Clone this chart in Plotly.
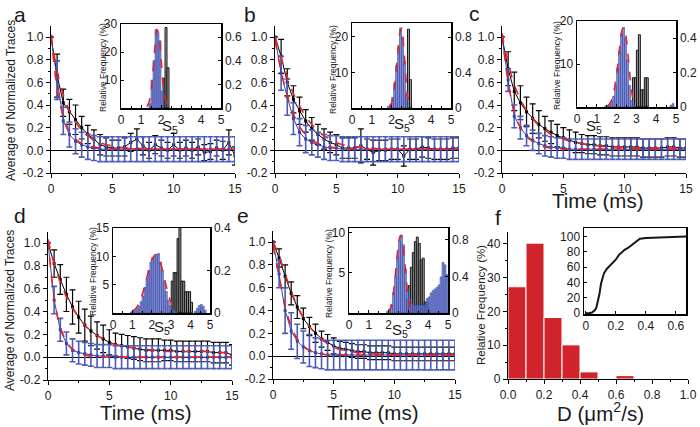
import plotly.graph_objects as go

W, H = 700, 427
def fx(p): return p / W
def fy(p): return 1 - p / H

FONT = "Liberation Sans, Arial, sans-serif"
BLUE = "#3846a6"
BLUE_ERR = "#4b5bbb"
RED = "#e2242b"
TXT = "#1a1a1a"

# ---------------- data ----------------
T = [0, 0.5, 1, 1.5, 2, 2.5, 3, 3.5, 4, 4.5, 5, 5.5, 6, 6.5, 7, 7.5, 8, 8.5, 9, 9.5,
     10, 10.5, 11, 11.5, 12, 12.5, 13, 13.5, 14, 14.5, 15]

a_black = [1.00, 0.66, 0.42, 0.34, 0.27, 0.20, 0.14, 0.10, 0.05, 0.03,
           0.02, 0.02, 0.03, 0.07, 0.10, 0.04, 0.00, 0.05, 0.02, 0.00,
           0.05, 0.00, 0.02, 0.00, 0.03, -0.02, -0.01, 0.02, 0.00, 0.07,
           -0.05]
a_black_err = [0.00, 0.19, 0.12, 0.11, 0.13, 0.10, 0.08, 0.08, 0.09, 0.08,
               0.07, 0.07, 0.08, 0.08, 0.09, 0.08, 0.07, 0.08, 0.07, 0.07,
               0.10, 0.07, 0.07, 0.07, 0.07, 0.07, 0.07, 0.07, 0.08, 0.11,
               0.08]
a_blue = [1.00, 0.62, 0.26, 0.14, 0.08, 0.05, 0.03, 0.02, 0.01, 0.01,
          0.01, 0.01, 0.01, 0.01, 0.01, 0.01, 0.01, 0.01, 0.01, 0.01,
          0.01, 0.01, 0.01, 0.01, 0.01, 0.01, 0.01, 0.01, 0.01, 0.01,
          0.01]
a_blue_err = [0.00, 0.17, 0.12, 0.11, 0.11, 0.11, 0.11, 0.11, 0.11, 0.11,
              0.11, 0.11, 0.11, 0.11, 0.11, 0.11, 0.11, 0.11, 0.11, 0.11,
              0.11, 0.11, 0.11, 0.11, 0.11, 0.11, 0.11, 0.11, 0.11, 0.11,
              0.11]
a_fit_black = [1.02, 0.70, 0.49, 0.35, 0.25, 0.18, 0.13, 0.09, 0.07, 0.05,
               0.04, 0.03, 0.02, 0.02, 0.02, 0.01, 0.01, 0.01, 0.01, 0.01,
               0.01, 0.01, 0.01, 0.01, 0.01, 0.01, 0.01, 0.01, 0.01, 0.01,
               0.01]
a_fit_blue = [1.02, 0.55, 0.30, 0.17, 0.10, 0.06, 0.04, 0.03, 0.02, 0.01,
              0.01, 0.01, 0.01, 0.01, 0.01, 0.01, 0.01, 0.01, 0.01, 0.01,
              0.01, 0.01, 0.01, 0.01, 0.01, 0.01, 0.01, 0.01, 0.01, 0.01,
              0.01]

b_black = [1.00, 0.83, 0.60, 0.45, 0.35, 0.26, 0.19, 0.14, 0.10, 0.07,
           0.05, 0.02, 0.02, 0.02, 0.04, 0.01, -0.02, 0.00, 0.00, 0.01,
           0.01, -0.05, 0.01, 0.01, 0.03, 0.02, 0.01, 0.01, 0.01, 0.02,
           0.02]
b_black_err = [0.00, 0.15, 0.12, 0.12, 0.12, 0.10, 0.10, 0.09, 0.09, 0.09,
               0.09, 0.09, 0.09, 0.09, 0.15, 0.09, 0.11, 0.09, 0.09, 0.09,
               0.09, 0.09, 0.09, 0.09, 0.09, 0.09, 0.09, 0.09, 0.09, 0.09,
               0.09]
b_blue = [1.00, 0.68, 0.47, 0.28, 0.16, 0.10, 0.07, 0.05, 0.03, 0.02,
          0.02, 0.01, 0.01, 0.01, 0.01, 0.01, 0.01, 0.01, 0.01, 0.01,
          0.01, 0.01, 0.01, 0.01, 0.01, 0.01, 0.01, 0.01, 0.01, 0.01,
          0.01]
b_blue_err = [0.00, 0.15, 0.16, 0.14, 0.12, 0.12, 0.11, 0.11, 0.11, 0.11,
              0.11, 0.11, 0.11, 0.11, 0.11, 0.11, 0.11, 0.11, 0.11, 0.11,
              0.11, 0.11, 0.11, 0.11, 0.11, 0.11, 0.11, 0.11, 0.11, 0.11,
              0.11]
b_fit_black = [1.00, 0.82, 0.65, 0.50, 0.39, 0.30, 0.23, 0.17, 0.13, 0.10,
               0.07, 0.05, 0.04, 0.03, 0.03, 0.02, 0.02, 0.01, 0.01, 0.01,
               0.01, 0.01, 0.01, 0.01, 0.01, 0.01, 0.01, 0.01, 0.01, 0.01,
               0.01]
b_fit_blue = [0.97, 0.70, 0.48, 0.32, 0.21, 0.14, 0.09, 0.06, 0.04, 0.03,
              0.02, 0.02, 0.01, 0.01, 0.01, 0.01, 0.01, 0.01, 0.01, 0.01,
              0.01, 0.01, 0.01, 0.01, 0.01, 0.01, 0.01, 0.01, 0.01, 0.01,
              0.01]

c_black = [1.00, 0.72, 0.52, 0.42, 0.34, 0.28, 0.23, 0.19, 0.16, 0.13,
           0.11, 0.09, 0.07, 0.06, 0.05, 0.05, 0.04, 0.04, 0.03, 0.03,
           0.03, 0.03, 0.03, 0.02, 0.02, 0.02, 0.02, 0.03, 0.03, 0.02,
           0.02]
c_black_err = [0.00, 0.15, 0.17, 0.15, 0.13, 0.13, 0.12, 0.11, 0.10, 0.10,
               0.09, 0.09, 0.09, 0.08, 0.08, 0.08, 0.08, 0.08, 0.08, 0.08,
               0.08, 0.08, 0.08, 0.08, 0.08, 0.08, 0.08, 0.08, 0.08, 0.08,
               0.08]
c_blue = [1.00, 0.62, 0.30, 0.20, 0.13, 0.09, 0.06, 0.04, 0.03, 0.02,
          0.02, 0.01, 0.01, 0.01, 0.01, 0.01, 0.01, 0.01, 0.01, 0.01,
          0.01, 0.01, 0.01, 0.01, 0.01, 0.01, 0.01, 0.01, 0.01, 0.01,
          0.01]
c_blue_err = [0.00, 0.10, 0.10, 0.10, 0.09, 0.09, 0.09, 0.09, 0.09, 0.09,
              0.09, 0.09, 0.09, 0.09, 0.09, 0.09, 0.09, 0.09, 0.09, 0.09,
              0.09, 0.09, 0.09, 0.09, 0.09, 0.09, 0.09, 0.09, 0.09, 0.09,
              0.09]
c_fit_black = [1.03, 0.77, 0.58, 0.45, 0.35, 0.28, 0.22, 0.18, 0.14, 0.12,
               0.10, 0.08, 0.07, 0.06, 0.05, 0.04, 0.04, 0.03, 0.03, 0.03,
               0.03, 0.02, 0.02, 0.02, 0.02, 0.02, 0.02, 0.02, 0.02, 0.02,
               0.02]
c_fit_blue = [1.03, 0.60, 0.34, 0.20, 0.12, 0.08, 0.05, 0.03, 0.02, 0.02,
              0.01, 0.01, 0.01, 0.01, 0.01, 0.01, 0.01, 0.01, 0.01, 0.01,
              0.01, 0.01, 0.01, 0.01, 0.01, 0.01, 0.01, 0.01, 0.01, 0.01,
              0.01]

d_black = [1.00, 0.82, 0.68, 0.55, 0.44, 0.35, 0.28, 0.23, 0.19, 0.16,
           0.13, 0.11, 0.10, 0.09, 0.08, 0.07, 0.06, 0.06, 0.06, 0.06,
           0.06, 0.05, 0.05, 0.05, 0.05, 0.05, 0.05, 0.04, 0.04, 0.04,
           0.02]
d_black_err = [0.00, 0.12, 0.13, 0.15, 0.15, 0.14, 0.14, 0.13, 0.12, 0.12,
               0.11, 0.10, 0.10, 0.10, 0.10, 0.10, 0.10, 0.10, 0.10, 0.09,
               0.09, 0.09, 0.09, 0.09, 0.09, 0.09, 0.09, 0.09, 0.09, 0.09,
               0.09]
d_blue = [1.00, 0.50, 0.24, 0.12, 0.06, 0.04, 0.03, 0.02, 0.01, 0.01,
          0.01, 0.00, 0.00, 0.00, 0.00, 0.00, 0.00, 0.00, 0.00, 0.00,
          0.00, 0.00, 0.00, 0.00, 0.00, 0.00, 0.00, 0.00, 0.00, 0.00,
          0.00]
d_blue_err = [0.00, 0.12, 0.10, 0.10, 0.10, 0.10, 0.10, 0.10, 0.10, 0.10,
              0.10, 0.10, 0.10, 0.10, 0.10, 0.10, 0.10, 0.10, 0.10, 0.10,
              0.10, 0.10, 0.10, 0.10, 0.10, 0.10, 0.10, 0.10, 0.10, 0.10,
              0.10]
d_fit_black = [1.03, 0.82, 0.66, 0.53, 0.43, 0.35, 0.28, 0.23, 0.19, 0.16,
               0.13, 0.11, 0.10, 0.09, 0.08, 0.07, 0.07, 0.06, 0.06, 0.05,
               0.05, 0.05, 0.05, 0.05, 0.05, 0.05, 0.05, 0.04, 0.04, 0.04,
               0.04]
d_fit_blue = [1.03, 0.52, 0.26, 0.14, 0.07, 0.04, 0.02, 0.01, 0.01, 0.00,
              0.00, 0.00, 0.00, 0.00, 0.00, 0.00, 0.00, 0.00, 0.00, 0.00,
              0.00, 0.00, 0.00, 0.00, 0.00, 0.00, 0.00, 0.00, 0.00, 0.00,
              0.00]

e_black = [1.00, 0.86, 0.70, 0.55, 0.43, 0.33, 0.26, 0.20, 0.15, 0.12,
           0.09, 0.07, 0.06, 0.05, 0.04, 0.04, 0.03, 0.03, 0.03, 0.03,
           0.02, 0.02, 0.02, 0.02, 0.02, 0.02, 0.02, 0.02, 0.02, 0.02,
           0.02]
e_black_err = [0.00, 0.08, 0.10, 0.10, 0.10, 0.09, 0.08, 0.08, 0.07, 0.07,
               0.07, 0.06, 0.06, 0.06, 0.06, 0.06, 0.06, 0.06, 0.06, 0.06,
               0.06, 0.06, 0.06, 0.06, 0.06, 0.06, 0.06, 0.06, 0.06, 0.06,
               0.06]
e_blue = [1.00, 0.72, 0.40, 0.22, 0.13, 0.08, 0.05, 0.03, 0.02, 0.01,
          0.01, 0.01, 0.01, 0.01, 0.01, 0.01, 0.01, 0.01, 0.01, 0.01,
          0.01, 0.01, 0.01, 0.01, 0.01, 0.01, 0.01, 0.01, 0.01, 0.01,
          0.01]
e_blue_err = [0.00, 0.12, 0.20, 0.16, 0.15, 0.14, 0.14, 0.13, 0.13, 0.13,
              0.13, 0.13, 0.13, 0.13, 0.13, 0.13, 0.13, 0.13, 0.13, 0.13,
              0.13, 0.13, 0.13, 0.13, 0.13, 0.13, 0.13, 0.13, 0.13, 0.13,
              0.13]
e_fit_black = [1.00, 0.88, 0.72, 0.57, 0.44, 0.34, 0.26, 0.20, 0.15, 0.11,
               0.08, 0.06, 0.05, 0.04, 0.03, 0.03, 0.02, 0.02, 0.02, 0.01,
               0.01, 0.01, 0.01, 0.01, 0.01, 0.01, 0.01, 0.01, 0.01, 0.01,
               0.01]
e_fit_blue = [0.97, 0.70, 0.44, 0.26, 0.15, 0.09, 0.05, 0.03, 0.02, 0.01,
              0.01, 0.01, 0.01, 0.01, 0.01, 0.01, 0.01, 0.01, 0.01, 0.01,
              0.01, 0.01, 0.01, 0.01, 0.01, 0.01, 0.01, 0.01, 0.01, 0.01,
              0.01]

# inset histograms (S5)
a_hist_blue_x = [1.45, 1.55, 1.65, 1.75, 1.85, 1.95, 2.05]
a_hist_blue_y = [1.5, 10, 17, 28, 27, 24, 6]
a_hist_black_x = [2.15, 2.25, 2.35]
a_hist_black_y = [0.25, 0.68, 0.34]
a_gauss_x = [1.3, 1.4, 1.5, 1.6, 1.7, 1.8, 1.9, 2.0, 2.1, 2.2, 2.3]
a_gauss_y = [0.5, 2, 6, 13, 22, 28, 26, 18, 9, 3.5, 1]

b_hist_blue_x = [1.85, 1.95, 2.05, 2.15, 2.25, 2.35, 2.45, 2.55, 2.65, 2.75]
b_hist_blue_y = [0.5, 1, 3, 7, 12, 17, 22.5, 20, 13, 4]
b_hist_black_x = [2.75, 2.85, 2.95]
b_hist_black_y = [0.15, 0.89, 0.32]
b_gauss_x = [1.9, 2.0, 2.1, 2.2, 2.3, 2.4, 2.5, 2.6, 2.7, 2.8, 2.9]
b_gauss_y = [0.3, 1.5, 4, 8.5, 14.5, 20.5, 22.5, 18, 10, 3.5, 0.8]

c_hist_blue_x = [1.45, 1.55, 1.65, 1.75, 1.85, 1.95, 2.05, 2.15, 2.25, 2.35,
                 2.45, 2.55, 2.65, 2.75, 2.85, 4.75, 4.85]
c_hist_blue_y = [0.2, 0.3, 0.6, 1.2, 2.5, 5, 9, 13, 17, 18.5,
                 16, 11, 5, 1.5, 0.5, 0.4, 0.8]
c_hist_black_x = [2.85, 2.95, 3.05, 3.15, 3.25, 3.35, 3.45, 3.55]
c_hist_black_y = [0.17, 0.17, 0.33, 0.42, 0.10, 0.10, 0.17, 0.17]
c_gauss_x = [1.5, 1.6, 1.7, 1.8, 1.9, 2.0, 2.1, 2.2, 2.3, 2.4, 2.5, 2.6, 2.7, 2.8, 2.9]
c_gauss_y = [0.2, 0.5, 1.2, 2.5, 4.5, 7.5, 11.5, 15.5, 18.2, 18.3, 15.5, 11, 6, 2.5, 0.8]

d_hist_blue_x = [0.95, 1.05, 1.15, 1.25, 1.35, 1.45, 1.55, 1.65, 1.75, 1.85,
                 1.95, 2.05, 2.15, 2.25, 2.35, 2.45, 2.55, 2.65, 2.75, 2.85,
                 2.95, 3.05, 3.15, 3.25, 4.25, 4.35, 4.45, 4.55, 4.65, 4.75]
d_hist_blue_y = [0.2, 0.3, 0.5, 0.8, 1.2, 2, 3, 4.5, 6, 7.5,
                 9, 9.8, 10, 10.3, 10.5, 9, 7.5, 5.5, 3.8, 2.3,
                 1.3, 0.7, 0.4, 0.2, 0.3, 0.8, 1.3, 1.5, 1.2, 0.5]
d_hist_black_x = [3.05, 3.15, 3.25, 3.35, 3.45, 3.55, 3.65, 3.75, 3.85, 3.95, 4.05]
d_hist_black_y = [0.15, 0.19, 0.19, 0.35, 0.42, 0.15, 0.15, 0.10, 0.10, 0.10, 0.05]
d_gauss_x = [1.0, 1.2, 1.4, 1.6, 1.8, 2.0, 2.2, 2.4, 2.6, 2.8, 3.0, 3.2]
d_gauss_y = [0.3, 0.9, 2.2, 4.3, 7, 9.4, 10.3, 9.3, 6.8, 4, 1.8, 0.6]

e_hist_blue_x = [1.95, 2.05, 2.15, 2.25, 2.35, 2.45, 2.55, 2.65, 2.75, 2.85,
                 2.95, 3.05, 3.15, 3.25, 3.35, 3.45, 3.55, 3.65, 3.75, 3.85,
                 3.95, 4.05, 4.15, 4.25, 4.35, 4.45, 4.55, 4.65, 4.75, 4.85,
                 4.95]
e_hist_blue_y = [0.2, 0.5, 1, 2.5, 4.5, 7, 9, 9.7, 8.5, 5.5,
                 3, 1.8, 1.2, 1.0, 1.0, 1.0, 1.0, 1.0, 1.0, 1.0,
                 1.8, 2.0, 2.5, 2.8, 3.0, 3.2, 3.5, 4.5, 6.3, 6.0,
                 4.8]
e_hist_black_x = [2.95, 3.05, 3.15, 3.25, 3.35, 3.45, 3.55, 3.65, 3.75, 3.85, 3.95, 4.05]
e_hist_black_y = [0.15, 0.30, 0.50, 0.66, 0.78, 0.83, 0.76, 0.58, 0.60, 0.12, 0.12, 0.03]
e_gauss_x = [2.0, 2.1, 2.2, 2.3, 2.4, 2.5, 2.6, 2.7, 2.8, 2.9, 3.0, 3.1]
e_gauss_y = [0.1, 0.6, 1.8, 3.8, 6.3, 8.6, 9.7, 9.0, 6.8, 4.0, 1.8, 0.6]

# panel f
f_bins = [0.05, 0.15, 0.25, 0.35, 0.45, 0.55, 0.65]
f_freq = [27.3, 40.2, 18.2, 10.1, 2.1, 0, 1.0]
f_cdf_x = [0.0, 0.02, 0.04, 0.06, 0.07, 0.08, 0.09, 0.10, 0.11, 0.12, 0.14, 0.16, 0.18, 0.20,
           0.22, 0.24, 0.26, 0.28, 0.30, 0.32, 0.34, 0.36, 0.40, 0.45, 0.50, 0.60, 0.67]
f_cdf_y = [0, 0, 1, 4, 8, 15, 25, 38, 46, 52, 58, 62, 65, 70,
           76, 80, 83, 85, 88, 91, 94, 97, 98, 98.5, 99, 99.5, 100]

# tick labels
main_x_ticks = [0, 5, 10, 15]
main_x_labels = ["0", "5", "10", "15"]
main_y_ticks = [-0.2, 0.0, 0.2, 0.4, 0.6, 0.8, 1.0]
main_y_labels = ["-0.2", "0.0", "0.2", "0.4", "0.6", "0.8", "1.0"]
inset_x_ticks = [0, 1, 2, 3, 4, 5]
inset_x_labels = ["0", "1", "2", "3", "4", "5"]
f_x_ticks = [0.0, 0.2, 0.4, 0.6, 0.8, 1.0]
f_x_labels = ["0.0", "0.2", "0.4", "0.6", "0.8", "1.0"]
f_y_ticks = [0, 10, 20, 30, 40]
f_inset_x_ticks = [0, 0.2, 0.4, 0.6]
f_inset_x_labels = ["0", "0.2", "0.4", "0.6"]
f_inset_y_ticks = [0, 20, 40, 60, 80, 100]

# ---------------- figure ----------------
fig = go.Figure()
layout = {}

def nm(i):
    return "" if i == 1 else str(i)

tickfont = dict(family=FONT, size=12, color=TXT)

main_panels = [
    (a_black, a_black_err, a_blue, a_blue_err, a_fit_black, a_fit_blue, (51, 235), (25.7, 173)),
    (b_black, b_black_err, b_blue, b_blue_err, b_fit_black, b_fit_blue, (275, 459), (25.7, 173)),
    (c_black, c_black_err, c_blue, c_blue_err, c_fit_black, c_fit_blue, (502, 686), (25.7, 173)),
    (d_black, d_black_err, d_blue, d_blue_err, d_fit_black, d_fit_blue, (48, 232), (231.6, 380)),
    (e_black, e_black_err, e_blue, e_blue_err, e_fit_black, e_fit_blue, (273, 455), (230.6, 379)),
]

for i, (bk, bke, bl, ble, fk, fb, xd, yd) in enumerate(main_panels, start=1):
    n = nm(i)
    layout["xaxis" + n] = dict(
        domain=[fx(xd[0]), fx(xd[1])], range=[0, 15], anchor="y" + n, automargin=False,
        showline=True, linecolor="black", linewidth=1.2, showgrid=False, zeroline=False,
        ticks="outside", ticklen=4, tickwidth=1, tickcolor="black",
        tickmode="array", tickvals=main_x_ticks, ticktext=main_x_labels,
        minor=dict(tickvals=[2.5, 7.5, 12.5], ticks="outside", ticklen=2, tickcolor="black"),
        tickfont=tickfont)
    layout["yaxis" + n] = dict(
        domain=[fy(yd[1]), fy(yd[0])], range=[-0.2, 1.1], anchor="x" + n, automargin=False,
        showline=True, linecolor="black", linewidth=1.2, showgrid=False,
        zeroline=True, zerolinecolor="black", zerolinewidth=1,
        ticks="outside", ticklen=4, tickwidth=1, tickcolor="black",
        tickmode="array", tickvals=main_y_ticks, ticktext=main_y_labels,
        minor=dict(tickvals=[-0.1, 0.1, 0.3, 0.5, 0.7, 0.9], ticks="outside", ticklen=2,
                   tickcolor="black"),
        tickfont=tickfont)
    xa, ya = "x" + n, "y" + n
    fig.add_trace(go.Scatter(
        x=T, y=bk, mode="lines+markers", xaxis=xa, yaxis=ya,
        line=dict(color="black", width=1), marker=dict(symbol="square", size=3, color="black"),
        error_y=dict(type="data", array=bke, color="black", thickness=1.2, width=3)))
    fig.add_trace(go.Scatter(
        x=T, y=bl, mode="lines+markers", xaxis=xa, yaxis=ya,
        line=dict(color=BLUE, width=1), marker=dict(symbol="square", size=3, color=BLUE),
        error_y=dict(type="data", array=ble, color=BLUE_ERR, thickness=1.6, width=3)))
    for fit in (fk, fb):
        fig.add_trace(go.Scatter(
            x=T, y=fit, mode="lines", xaxis=xa, yaxis=ya,
            line=dict(color=RED, width=1.6, dash="dash", shape="spline")))

# insets a-e
inset_panels = [
    (a_hist_blue_x, a_hist_blue_y, a_hist_black_x, a_hist_black_y, a_gauss_x, a_gauss_y,
     (121, 221), (24, 108), 30, 0.71, [10, 20, 30], [0, 0.2, 0.4, 0.6], ["0", "0.2", "0.4", "0.6"]),
    (b_hist_blue_x, b_hist_blue_y, b_hist_black_x, b_hist_black_y, b_gauss_x, b_gauss_y,
     (352, 451), (23, 108), 23.9, 0.96, [10, 20], [0, 0.4, 0.8], ["0", "0.4", "0.8"]),
    (c_hist_blue_x, c_hist_blue_y, c_hist_black_x, c_hist_black_y, c_gauss_x, c_gauss_y,
     (577, 676), (21, 107), 20, 0.5, [10, 20], [0, 0.2, 0.4], ["0", "0.2", "0.4"]),
    (d_hist_blue_x, d_hist_blue_y, d_hist_black_x, d_hist_black_y, d_gauss_x, d_gauss_y,
     (113, 210), (228, 313), 15, 0.4, [5, 10, 15], [0, 0.2, 0.4], ["0", "0.2", "0.4"]),
    (e_hist_blue_x, e_hist_blue_y, e_hist_black_x, e_hist_black_y, e_gauss_x, e_gauss_y,
     (349, 448), (228, 313), 10.6, 0.93, [5, 10], [0, 0.4, 0.8], ["0", "0.4", "0.8"]),
]

for k, (bx, by, kx, ky, gx, gy, xd, yd, lmax, rmax, ltk, rtk, rtl) in enumerate(inset_panels, start=1):
    xi = 6 + k        # x axis index
    yr_i = 6 + k      # base y axis (right, black bars)
    yl_i = 12 + k     # overlay y axis (left, blue bars)
    layout["xaxis%d" % xi] = dict(
        domain=[fx(xd[0]), fx(xd[1])], range=[0, 5], anchor="y%d" % yr_i, automargin=False,
        showline=True, mirror=True, linecolor="black", linewidth=1.5, showgrid=False, zeroline=False,
        ticks="inside", ticklen=3, tickcolor="black", tickmode="array",
        tickvals=inset_x_ticks, ticktext=inset_x_labels,
        minor=dict(tickvals=[0.5, 1.5, 2.5, 3.5, 4.5], ticks="inside", ticklen=2, tickcolor="black"),
        tickfont=tickfont)
    layout["yaxis%d" % yr_i] = dict(
        domain=[fy(yd[1]), fy(yd[0])], range=[0, rmax], anchor="x%d" % xi, side="right",
        automargin=False,
        showline=True, linecolor="black", linewidth=1.5, showgrid=False, zeroline=False,
        ticks="inside", ticklen=3, tickcolor="black", tickmode="array",
        tickvals=rtk, ticktext=rtl, tickfont=tickfont)
    layout["yaxis%d" % yl_i] = dict(
        range=[0, lmax], anchor="x%d" % xi, overlaying="y%d" % yr_i, side="left",
        automargin=False,
        showline=True, linecolor="black", linewidth=1.5, showgrid=False, zeroline=False,
        ticks="inside", ticklen=3, tickcolor="black", tickmode="array",
        tickvals=ltk, ticktext=[str(v) for v in ltk], tickfont=tickfont)
    fig.add_trace(go.Bar(
        x=kx, y=ky, width=0.1, xaxis="x%d" % xi, yaxis="y%d" % yr_i,
        marker=dict(color="#a8a8a8", line=dict(color="black", width=0.9))))
    fig.add_trace(go.Bar(
        x=bx, y=by, width=0.1, xaxis="x%d" % xi, yaxis="y%d" % yl_i,
        marker=dict(color="rgba(110,125,205,0.85)", line=dict(color=BLUE, width=0.6))))
    fig.add_trace(go.Scatter(
        x=gx, y=gy, mode="lines", xaxis="x%d" % xi, yaxis="y%d" % yl_i,
        line=dict(color=RED, width=1.6, dash="dash", shape="spline")))

# panel f main
layout["xaxis6"] = dict(
    domain=[fx(508), fx(688)], range=[0, 1], anchor="y6", automargin=False,
    showline=True, linecolor="black", linewidth=1.2, showgrid=False, zeroline=False,
    ticks="outside", ticklen=4, tickcolor="black", tickmode="array",
    tickvals=f_x_ticks, ticktext=f_x_labels,
    minor=dict(tickvals=[0.1, 0.3, 0.5, 0.7, 0.9], ticks="outside", ticklen=2, tickcolor="black"),
    tickfont=tickfont)
layout["yaxis6"] = dict(
    domain=[fy(379), fy(232)], range=[0, 43.5], anchor="x6", automargin=False,
    showline=True, linecolor="black", linewidth=1.2, showgrid=False, zeroline=False,
    ticks="outside", ticklen=4, tickcolor="black", tickmode="array",
    tickvals=f_y_ticks, ticktext=[str(v) for v in f_y_ticks],
    minor=dict(tickvals=[5, 15, 25, 35], ticks="outside", ticklen=2, tickcolor="black"),
    tickfont=tickfont)
fig.add_trace(go.Bar(
    x=f_bins, y=f_freq, width=0.1, xaxis="x6", yaxis="y6",
    marker=dict(color="#d0232b", line=dict(color="white", width=1))))

# panel f inset
layout["xaxis12"] = dict(
    domain=[fx(584), fx(686)], range=[-0.013, 0.667], anchor="y12", automargin=False,
    showline=True, mirror=True, linecolor="black", linewidth=1.5, showgrid=False, zeroline=False,
    ticks="inside", ticklen=3, tickcolor="black", tickmode="array",
    tickvals=f_inset_x_ticks, ticktext=f_inset_x_labels, tickfont=tickfont)
layout["yaxis12"] = dict(
    domain=[fy(314), fy(228)], range=[-1, 111], anchor="x12", automargin=False,
    showline=True, mirror=True, linecolor="black", linewidth=1.5, showgrid=False, zeroline=False,
    ticks="inside", ticklen=3, tickcolor="black", tickmode="array",
    tickvals=f_inset_y_ticks, ticktext=[str(v) for v in f_inset_y_ticks], tickfont=tickfont)
fig.add_trace(go.Scatter(
    x=f_cdf_x, y=f_cdf_y, mode="lines", xaxis="x12", yaxis="y12",
    line=dict(color="#151515", width=2)))

# annotations
anns = []
def add_text(text, x, y, size, angle=0):
    anns.append(dict(text=text, x=fx(x), y=fy(y), xref="paper", yref="paper",
                     xanchor="center", yanchor="middle", showarrow=False, textangle=angle,
                     font=dict(family=FONT, size=size, color=TXT)))

for letter, x, y in [("a", 20, 14), ("b", 250, 14), ("c", 474, 13),
                     ("d", 20, 215), ("e", 243, 215), ("f", 498, 217)]:
    add_text(letter, x, y, 21)

add_text("Average of Normalized Traces", 11, 101, 12, -90)
add_text("Average of Normalized Traces", 10, 311, 12, -90)
add_text("Relative Frequency (%)", 481, 305, 11.5, -90)
add_text("Time (ms)", 597, 200, 20.5)
add_text("Time (ms)", 145, 412, 20.5)
add_text("Time (ms)", 372, 412, 20.5)
add_text("D (μm<sup>2</sup>/s)", 600, 412, 20.5)
for x, y in [(103, 67), (333, 70), (557, 66), (93, 272), (329, 274)]:
    add_text("Relative Frequency (%)", x, y, 8.5, -90)
for x, y in [(170, 126), (402, 124), (594, 126), (162, 327), (400, 330)]:
    add_text("S<sub>5</sub>", x, y, 15)

fig.update_layout(
    width=W, height=H, autosize=False,
    margin=dict(l=0, r=0, t=0, b=0, autoexpand=False),
    paper_bgcolor="white", plot_bgcolor="rgba(0,0,0,0)",
    showlegend=False, barmode="overlay",
    font=dict(family=FONT, color=TXT),
    annotations=anns,
    **layout)

fig.write_html("out.html",
               config={"displayModeBar": False, "staticPlot": True},
               post_script="document.body.style.margin='0px';document.body.style.padding='0px';")
